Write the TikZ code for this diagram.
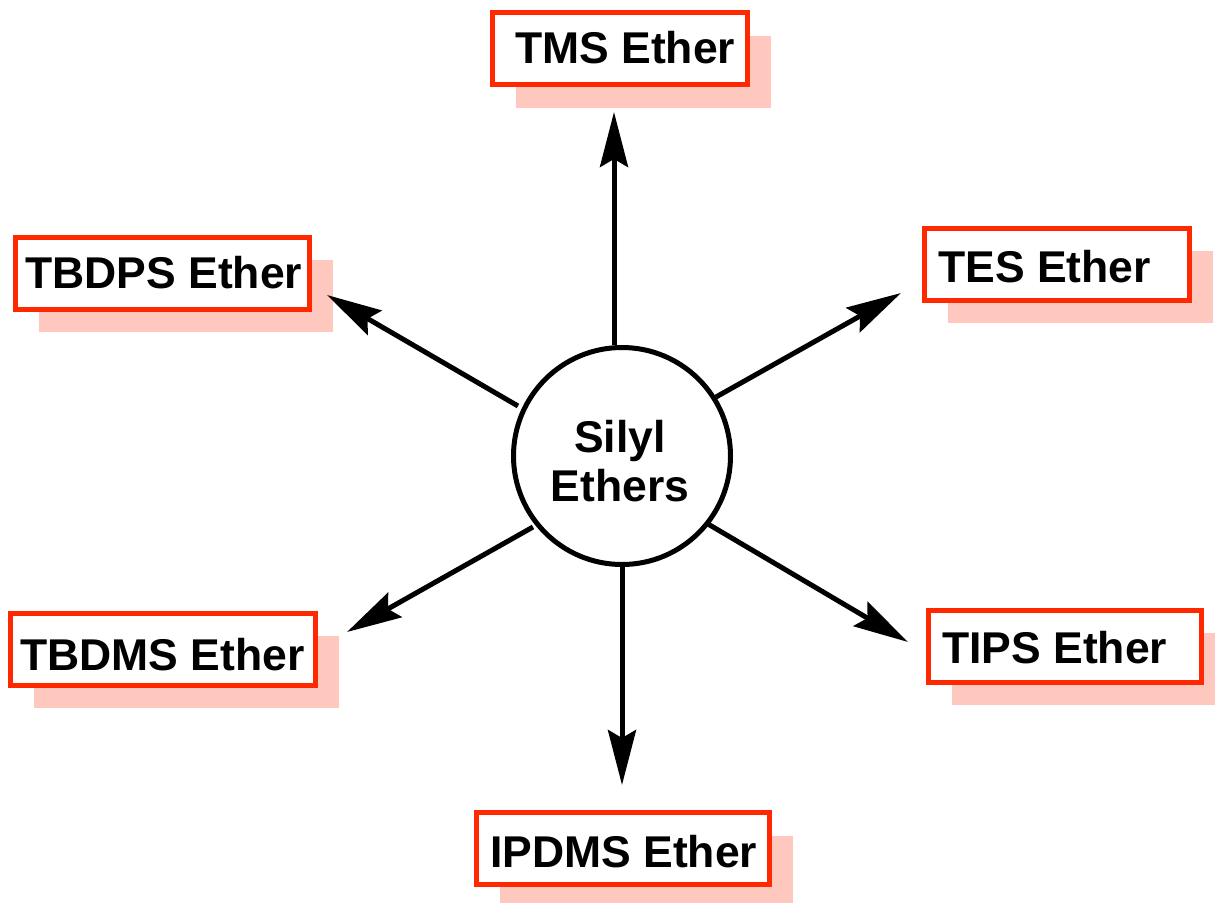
\documentclass[tikz,border=0pt]{standalone}
\usepackage{fontspec}
\setmainfont{Liberation Sans}
\usetikzlibrary{arrows.meta,backgrounds}
\definecolor{boxred}{RGB}{255,40,0}
\definecolor{shadowpink}{RGB}{255,200,190}
\begin{document}
\begin{tikzpicture}[x=1pt,y=-1pt,
  ether/.style={rectangle, draw=boxred, line width=5pt, fill=white,
    inner sep=0pt, outer sep=0pt, minimum height=72pt},
  ethertext/.style={anchor=base west, inner sep=0pt,
    font=\fontsize{44.5}{49}\selectfont\bfseries},
  hub/.style={circle, draw=black, line width=5pt, fill=white,
    minimum size=217pt, inner sep=0pt, outer sep=0pt},
  hubtext/.style={align=center, inner sep=0pt,
    font=\fontsize{44.5}{49}\selectfont\bfseries},
  link/.style={line width=5pt,
    -{Stealth[length=55pt,width=28pt,inset=8pt]}}
]
\useasboundingbox (0,0) rectangle (1215,902);

% central hub and its caption
\node[hub] (hub) at (622,456) {};
\node[hubtext] (hubt) at (620,461) {Silyl\\Ethers};

% ether boxes
\node[ether, minimum width=255pt] (tms)   at (620,48.5)  {};
\node[ether, minimum width=265pt] (tes)   at (1057,264)  {};
\node[ether, minimum width=294pt] (tbdps) at (162.5,273) {};
\node[ether, minimum width=305pt] (tbdms) at (163,649)   {};
\node[ether, minimum width=273pt] (tips)  at (1065,646)  {};
\node[ether, minimum width=293pt] (ipdms) at (623,848.5) {};

% box captions
\node[ethertext] (tmst)   at (515,63)  {TMS Ether};
\node[ethertext] (test)   at (938,282) {TES Ether};
\node[ethertext] (tbdpst) at (25,288)  {TBDPS Ether};
\node[ethertext] (tbdmst) at (20,670)  {TBDMS Ether};
\node[ethertext] (tipst)  at (942,663) {TIPS Ether};
\node[ethertext] (ipdmst) at (490,867) {IPDMS Ether};

% offset shadows behind the boxes
\begin{scope}[on background layer]
  \foreach \n in {tms,tes,tbdps,tbdms,tips,ipdms}
    \fill[shadowpink] ([shift={(23,23)}]\n.north west)
      rectangle ([shift={(23,23)}]\n.south east);
\end{scope}

% arrow end points
\coordinate (tmsA)   at (614,345); \coordinate (tmsB)   at (614,112);
\coordinate (tesA)   at (716,397); \coordinate (tesB)   at (901,293);
\coordinate (tbdpsA) at (518,406); \coordinate (tbdpsB) at (327,295);
\coordinate (tbdmsA) at (533,527); \coordinate (tbdmsB) at (347,632);
\coordinate (tipsA)  at (708,524); \coordinate (tipsB)  at (908,642);
\coordinate (ipdmsA) at (622,567); \coordinate (ipdmsB) at (622,785);

% arrows from the hub outwards
\foreach \n in {tms,tes,tbdps,tbdms,tips,ipdms}
  \draw[link] (\n A) -- (\n B);
\end{tikzpicture}
\end{document}
